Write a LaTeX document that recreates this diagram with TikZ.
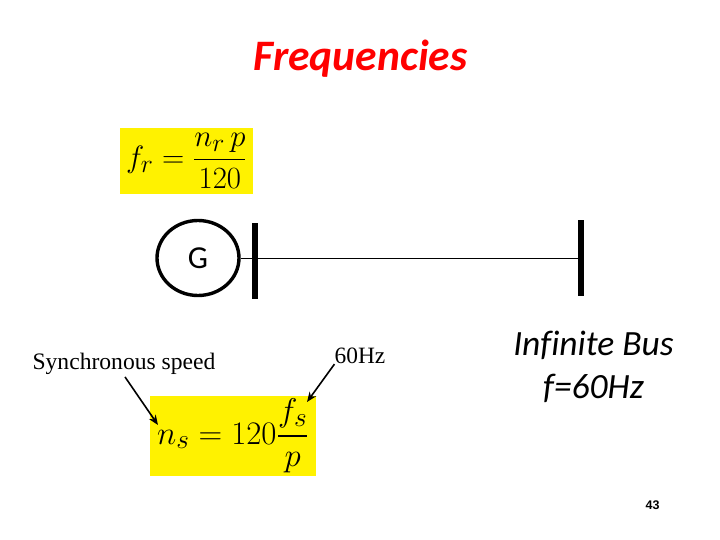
\documentclass[tikz,border=0pt]{standalone}
\usepackage{amsmath,amssymb}
\usepackage{fontspec}
\setmainfont{Liberation Serif}
\newfontfamily\calibrifont[Ligatures=NoCommon]{Carlito}
\newfontfamily\smallsans{Liberation Sans}
\usetikzlibrary{arrows.meta,shapes.geometric}
\begin{document}
\begin{tikzpicture}[
      x=1pt,y=-1pt,
      formula/.style={
          rectangle, fill=yellow, inner sep=0pt,
          align=center,
          font=\fontsize{24.88}{30}\selectfont
        },
      busbar/.style={
          rectangle, fill=black, inner sep=0pt,
          minimum width=6.5pt,
          minimum height=76pt
        },
      label/.style={inner sep=0pt, align=center},
      pointer/.style={draw, -{Stealth[length=10pt,width=8pt]}, line width=1.6pt},
    ]
    \useasboundingbox (0,0) rectangle (720,540);
    \node[label, text=red, font=\calibrifont\bfseries\itshape\fontsize{43.5}{48}\selectfont] (title) at (360.5,59) {Frequencies};
    % formulas
    \node[formula, minimum width=133pt, minimum height=66pt] (rotor) at (186.5,161) {\scalebox{1.24}{$f_r=\dfrac{n_r\,p}{120}$}};
    \node[formula, minimum width=166pt, minimum height=80pt] (stator) at (233,436) {\scalebox{1.32}{$n_s=120\dfrac{f_s}{p}$}};
    % one line diagram
    \node[ellipse, draw, line width=3.4pt, minimum width=82pt, minimum height=75pt, inner sep=0pt, font=\calibrifont\fontsize{32}{36}\selectfont] (gen) at (198,258) {G};
    \node[busbar] (busA) at (255,261) {};
    \node[busbar] (busB) at (581,258) {};
    \draw[line width=0.8pt] (gen.east) -- (busB.west);
    % labels
    \node[label, font=\fontsize{23.6}{27}\selectfont] (sync) at (124,364) {Synchronous speed};
    \node[label, font=\fontsize{23.4}{27}\selectfont] (hz) at (360,356) {60Hz};
    \node[label, font=\calibrifont\itshape\fontsize{35.5}{43}\selectfont] (inf) at (593.5,367) {Infinite Bus\\f=60Hz};
    \node[label, font=\smallsans\bfseries\fontsize{12.5}{14}\selectfont] (page) at (652.5,505) {43};
    \coordinate (nsend) at (158,425);
    \coordinate (fsend) at (307,402);
    \draw[pointer] (sync.south) ++(1,2) coordinate (syncstart) (syncstart) -- (nsend);
    \draw[pointer] (hz.south west) -- (fsend);
  \end{tikzpicture}
\end{document}
